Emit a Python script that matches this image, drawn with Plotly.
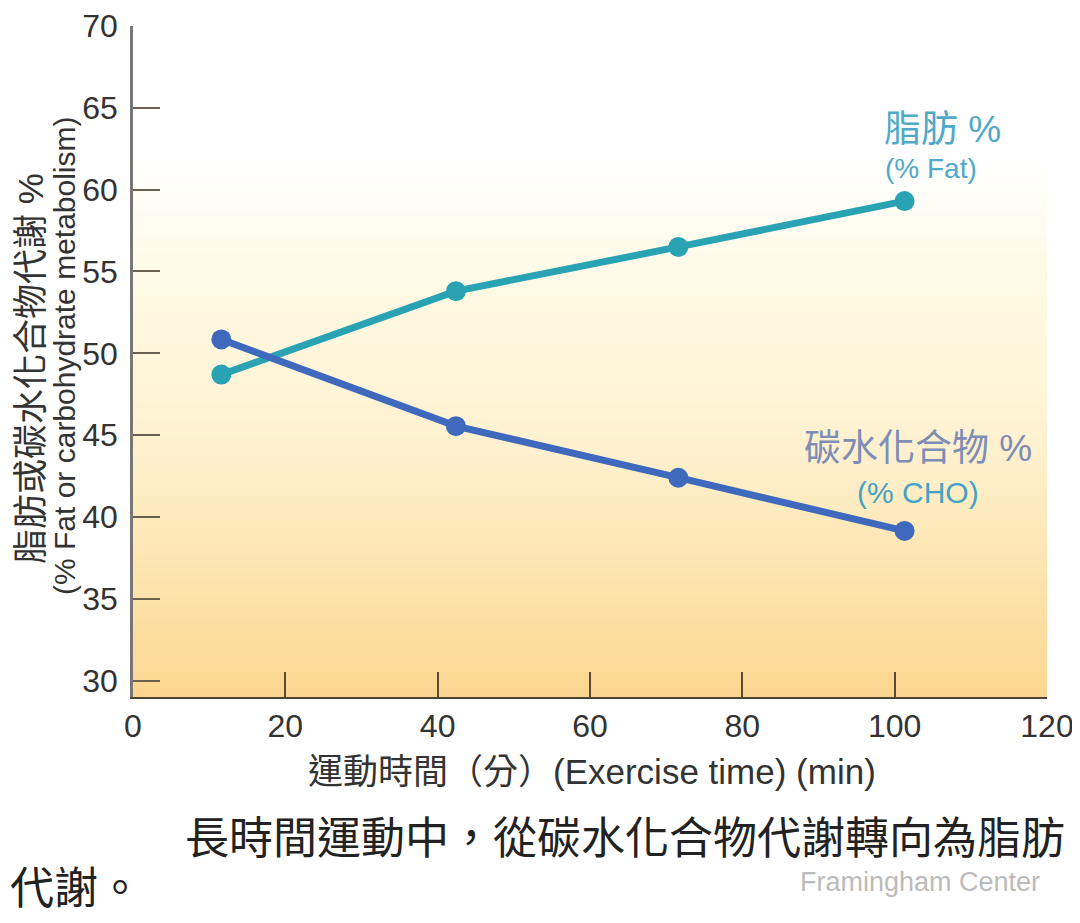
import plotly.graph_objects as go

# ---- data ----
time_min = [11.6, 42.4, 71.6, 101.3]
fat_pct = [48.7, 53.8, 56.5, 59.3]
cho_pct = [50.85, 45.55, 42.4, 39.15]
x_ticks = [0, 20, 40, 60, 80, 100, 120]
y_ticks = [30, 35, 40, 45, 50, 55, 60, 65, 70]

fat_name = "脂肪 %"
fat_sub = "(% Fat)"
cho_name = "碳水化合物 %"
cho_sub = "(% CHO)"
y_title_zh = "脂肪或碳水化合物代謝 %"
y_title_en = "(% Fat or carbohydrate metabolism)"
x_title = "運動時間（分）(Exercise time) (min)"
caption_1 = "長時間運動中，從碳水化合物代謝轉向為脂肪"
caption_2 = "代謝。"
watermark = "Framingham Center"

FAT_C = "#29A3B4"
CHO_C = "#3E69BC"
NUM_FONT = "Liberation Sans, Arial, sans-serif"
MIX_FONT = "Liberation Sans, Noto Sans CJK TC, sans-serif"
CJK_FONT = "Noto Sans CJK TC, Liberation Sans, sans-serif"

fig = go.Figure()

# background gradient (style only): strips from bottom (orange) to top (white)
stops = [(0.0, (252, 214, 144)), (0.15, (253, 226, 168)), (0.37, (255, 241, 207)),
         (0.59, (255, 249, 226)), (0.74, (255, 254, 246)), (0.81, (255, 255, 255)),
         (1.0, (255, 255, 255))]

def col_at(t):
    for (a, ca), (b, cb) in zip(stops[:-1], stops[1:]):
        if a <= t <= b:
            f = (t - a) / (b - a) if b > a else 0
            return tuple(int(round(ca[i] + (cb[i] - ca[i]) * f)) for i in range(3))
    return stops[-1][1]

n_strips = 80
shapes = []
for i in range(n_strips):
    y0 = i / n_strips
    y1 = (i + 1) / n_strips
    c = col_at((y0 + y1) / 2)
    shapes.append(dict(type="rect", xref="x domain", yref="y domain",
                       x0=0, x1=1, y0=y0, y1=min(1, y1 + 0.002), layer="below",
                       line=dict(width=0), fillcolor="rgb(%d,%d,%d)" % c))

fig.add_trace(go.Scatter(x=time_min, y=fat_pct, mode="lines+markers", name=fat_name,
                         line=dict(color=FAT_C, width=7),
                         marker=dict(size=20, color=FAT_C), showlegend=False))
fig.add_trace(go.Scatter(x=time_min, y=cho_pct, mode="lines+markers", name=cho_name,
                         line=dict(color=CHO_C, width=7),
                         marker=dict(size=20, color=CHO_C), showlegend=False))

def ann(text, x, y, xref, yref, size, color, family, **kw):
    d = dict(text=text, x=x, y=y, xref=xref, yref=yref, showarrow=False,
             xanchor="center", yanchor="middle",
             font=dict(family=family, size=size, color=color))
    d.update(kw)
    return d

annotations = [
    ann(fat_name, 106.3, 63.7, "x", "y", 37, "#4FA9C9", MIX_FONT),
    ann(fat_sub, 104.8, 61.3, "x", "y", 28, "#4FA9C9", NUM_FONT),
    ann(cho_name, 103.1, 44.2, "x", "y", 37, "#7D8DB5", MIX_FONT),
    ann(cho_sub, 103.1, 41.5, "x", "y", 30, "#45A2C6", NUM_FONT),
    ann(y_title_zh, -0.1128, 0.4903, "paper", "paper", 35, "#333333", MIX_FONT, textangle=-90),
    ann(y_title_en, -0.0744, 0.5097, "paper", "paper", 30, "#333333", NUM_FONT, textangle=-90),
    ann(x_title, 0.5025, -0.1103, "paper", "paper", 35, "#333333", MIX_FONT),
    ann(caption_1, 0.5386, -0.2057, "paper", "paper", 44, "#222222", CJK_FONT),
    ann(caption_2, -0.1368, -0.2802, "paper", "paper", 44, "#222222", CJK_FONT, xanchor="left"),
    ann(watermark, 0.8615, -0.2757, "paper", "paper", 27, "#BBBBBB", NUM_FONT),
]

fig.update_layout(
    width=1080, height=923,
    margin=dict(l=125, r=41, t=18, b=234),
    paper_bgcolor="white", plot_bgcolor="white",
    shapes=shapes, annotations=annotations,
    xaxis=dict(range=[0, 120], tickvals=x_ticks, ticks="inside", ticklen=25, tickwidth=2,
               tickcolor="#5a4a30", showline=True, linecolor="#4a4535", linewidth=2,
               showgrid=False, zeroline=False, automargin=False,
               ticklabeloverflow="allow",
               tickfont=dict(family=NUM_FONT, size=32, color="#333333")),
    yaxis=dict(range=[29.0, 70.0], tickvals=y_ticks, ticks="inside", ticklen=27, tickwidth=2,
               tickcolor="#6a6050", showline=True, linecolor="#777777", linewidth=2.5,
               showgrid=False, zeroline=False, ticklabelstandoff=6, automargin=False,
               ticklabeloverflow="allow",
               tickfont=dict(family=NUM_FONT, size=32, color="#333333")),
)

fig.write_html("out.html")
